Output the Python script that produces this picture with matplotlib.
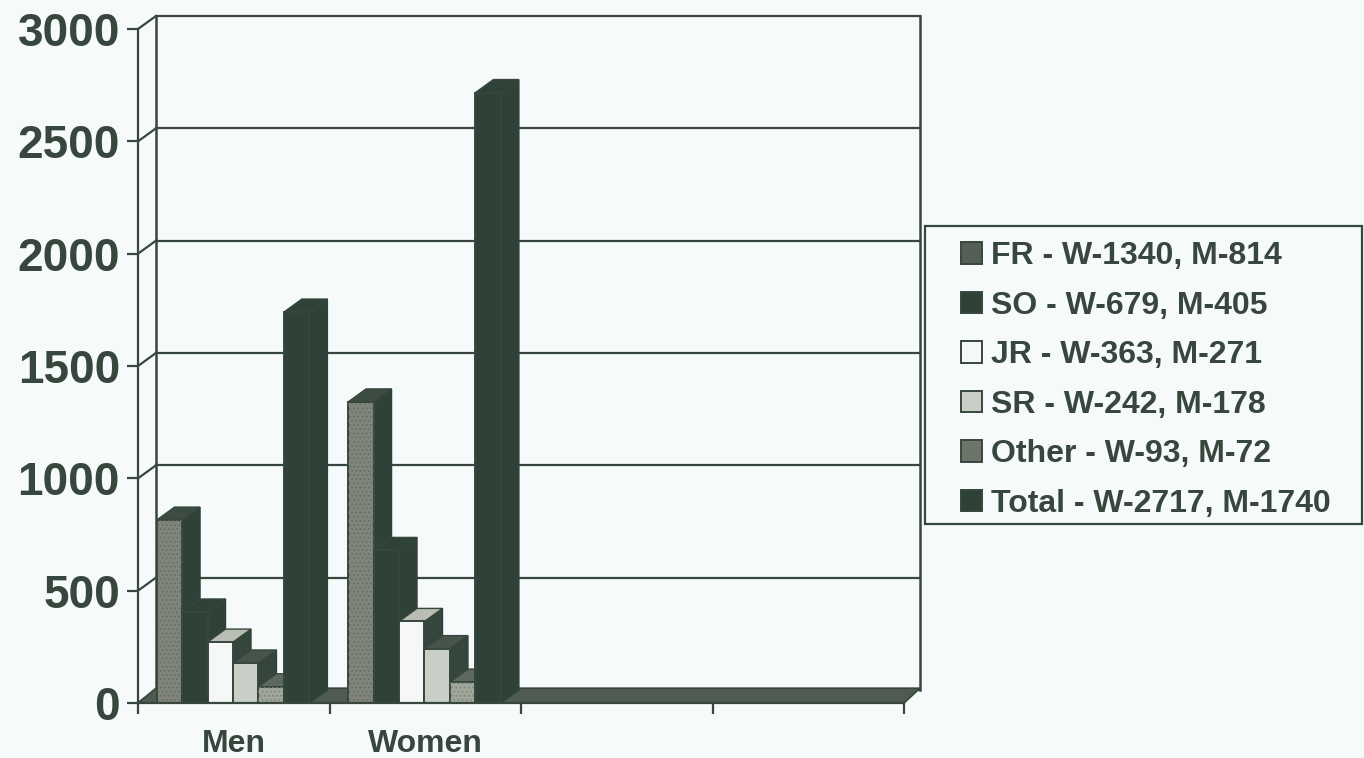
import matplotlib
matplotlib.use('Agg')
import matplotlib.pyplot as plt
from matplotlib.patches import Patch, Polygon, Rectangle

plt.rcParams['font.family'] = ['Liberation Sans', 'DejaVu Sans']
plt.rcParams['font.weight'] = 'bold'
plt.rcParams['hatch.linewidth'] = 0.6

# Data
categories = ['Men', 'Women', '', '']
series_names = ['FR', 'SO', 'JR', 'SR', 'Other', 'Total']
men = [814, 405, 271, 178, 72, 1740]
women = [1340, 679, 363, 242, 93, 2717]
yticks = [0, 500, 1000, 1500, 2000, 2500, 3000]

ink = '#37473e'
dark = '#2f4238'
bg = '#f7fafa'
front_colors = ['#80847a', dark, '#f5f8f6', '#c9cec6', '#a0a59a', dark]
side_colors = [dark, dark, '#35463c', '#35463c', '#35463c', dark]
top_colors = ['#3d4c43', dark, '#b9bdb4', '#46544b', '#5d695f', dark]
hatch_colors = ['#666c62', None, None, None, '#7c8278', None]
legend_colors = ['#555f56', dark, '#f5f8f6', '#c9cec6', '#6d756b', dark]

W, H = 1364, 758
fig = plt.figure(figsize=(W / 100, H / 100), dpi=100, facecolor=bg)
ax = fig.add_axes([138 / W, 1 - 703 / H, (904 - 138) / W, (703 - 29) / H])
ax.patch.set_alpha(0)
ax.set_xlim(0, 4)
ax.set_ylim(0, 3000)

# depth of the fake 3d box, in data units
dx = 0.094
dx_right = 0.084
dy = 58
floor_dy = 66
bar_w = 0.133
gap = 0.097

# back wall, floor
for v in yticks:
    ax.plot([dx, 4 + dx_right], [v + dy, v + dy], color=ink, lw=1.6, clip_on=False, zorder=1)
    ax.plot([0, dx], [v, v + dy], color=ink, lw=1.6, clip_on=False, zorder=1)
ax.plot([dx, dx], [dy, 3000 + dy], color=ink, lw=1.8, clip_on=False, zorder=1)
ax.plot([4 + dx_right, 4 + dx_right], [dy, 3000 + dy], color=ink, lw=1.8, clip_on=False, zorder=1)
ax.add_patch(Polygon([(0, 0), (dx, floor_dy), (4 + dx_right, floor_dy), (4, 0)], closed=True,
                     facecolor='#4f5a50', edgecolor=ink, lw=1.2, clip_on=False, zorder=2))

# bars, left to right so the next front hides the previous side
z = 3
for c, vals in enumerate([men, women]):
    for i, v in enumerate(vals):
        x0 = c + gap + i * bar_w
        x1 = x0 + bar_w
        ax.add_patch(Polygon([(x1, 0), (x1 + dx, dy), (x1 + dx, v + dy), (x1, v)], closed=True,
                             facecolor=side_colors[i], edgecolor=dark, lw=1, clip_on=False, zorder=z))
        ax.add_patch(Polygon([(x0, v), (x0 + dx, v + dy), (x1 + dx, v + dy), (x1, v)], closed=True,
                             facecolor=top_colors[i], edgecolor=ink, lw=1, clip_on=False, zorder=z))
        ax.bar(x0, v, width=bar_w, align='edge', color=front_colors[i], edgecolor=ink, lw=1.4,
               zorder=z + 1, clip_on=False)
        if hatch_colors[i]:
            ax.bar(x0, v, width=bar_w, align='edge', color='none', edgecolor=hatch_colors[i], lw=0,
                   hatch='....', zorder=z + 1, clip_on=False)
        z += 2

# axes
for s in ['top', 'right']:
    ax.spines[s].set_visible(False)
for s in ['left', 'bottom']:
    ax.spines[s].set_color(ink)
    ax.spines[s].set_linewidth(1.6)
    ax.spines[s].set_zorder(100)
ax.set_yticks(yticks)
ax.tick_params(axis='y', labelsize=33, colors=ink, length=8, width=1.6, pad=5)
ax.set_xticks([0, 1, 2, 3, 4])
ax.set_xticklabels([])
ax.set_xticks([0.5, 1.5, 2.5, 3.5], minor=True)
ax.set_xticklabels(categories, minor=True)
ax.tick_params(axis='x', which='major', colors=ink, length=8, width=1.6)
ax.tick_params(axis='x', which='minor', length=0, labelsize=23, labelcolor=ink, pad=19)

# legend box is drawn by hand, the reference has wide margins
fig.add_artist(Rectangle((925 / W, 1 - 524 / H), (1362 - 925) / W, (524 - 226) / H,
                         transform=fig.transFigure, facecolor=bg, edgecolor=ink, lw=1.6))
handles = []
labels = []
for i, name in enumerate(series_names):
    handles.append(Patch(facecolor=legend_colors[i], edgecolor=ink, lw=1.4))
    labels.append(f'{name} - W-{women[i]}, M-{men[i]}')
leg = fig.legend(handles, labels, loc='upper left', bbox_to_anchor=(955 / W, 1 - 235 / H),
                 fontsize=23, frameon=False, handlelength=0.66, handleheight=0.66,
                 handletextpad=0.28, labelspacing=0.61, borderpad=0, borderaxespad=0.2,
                 labelcolor=ink)

fig.savefig('out.png', dpi=100, facecolor=bg)
